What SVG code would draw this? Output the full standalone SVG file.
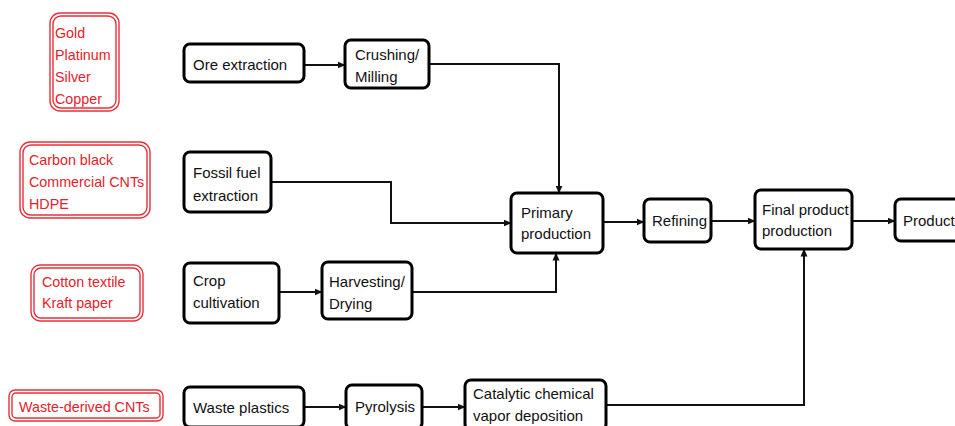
<svg xmlns="http://www.w3.org/2000/svg" width="955" height="426" viewBox="0 0 955 426">
<style>
.b{fill:#fff;stroke:#000;stroke-width:3}
.r{fill:#fff;stroke:#e8303a;stroke-width:1.4}
.ri{fill:none;stroke:#e8303a;stroke-width:1.4}
.t{font-family:"Liberation Sans",Arial,sans-serif;font-size:15px;fill:#111}
.rt{font-family:"Liberation Sans",Arial,sans-serif;font-size:14.3px;fill:#e8202a}
.c{fill:none;stroke:#111;stroke-width:2;marker-end:url(#a)}
</style>
<defs>
<marker id="a" viewBox="0 0 8 8" refX="7.5" refY="4" markerWidth="8" markerHeight="8" markerUnits="userSpaceOnUse" orient="auto">
<path d="M0,0.5 L8,4 L0,7.5 z" fill="#111"/>
</marker>
</defs>
<rect width="955" height="426" fill="#fff"/>
<g id="connectors">
<path class="c" d="M304,65 H345"/>
<path class="c" d="M429,64 H559 V193"/>
<path class="c" d="M271,182 H391 V223 H511"/>
<path class="c" d="M279,292 H322"/>
<path class="c" d="M412,292 H556 V253"/>
<path class="c" d="M603,222 H644"/>
<path class="c" d="M711,221 H755"/>
<path class="c" d="M852,221 H895"/>
<path class="c" d="M304,407 H346"/>
<path class="c" d="M422,407 H465"/>
<path class="c" d="M606,405 H804 V249"/>
</g>
<g id="red-metals">
<rect class="r" x="50" y="13" width="69" height="98" rx="10"/>
<rect class="ri" x="53" y="16" width="63" height="92" rx="8"/>
<text class="rt" x="55" y="38">Gold</text>
<text class="rt" x="55" y="60">Platinum</text>
<text class="rt" x="55" y="82">Silver</text>
<text class="rt" x="55" y="104">Copper</text>
</g>
<g id="red-carbon">
<rect class="r" x="20" y="142" width="130" height="76" rx="10"/>
<rect class="ri" x="23" y="145" width="124" height="70" rx="8"/>
<text class="rt" x="29" y="165">Carbon black</text>
<text class="rt" x="29" y="187">Commercial CNTs</text>
<text class="rt" x="29" y="209">HDPE</text>
</g>
<g id="red-cotton">
<rect class="r" x="31" y="265" width="112" height="56" rx="9"/>
<rect class="ri" x="34" y="268" width="106" height="50" rx="7"/>
<text class="rt" x="42" y="287">Cotton textile</text>
<text class="rt" x="42" y="308">Kraft paper</text>
</g>
<g id="red-waste">
<rect class="r" x="9" y="390" width="154" height="31" rx="6"/>
<rect class="ri" x="12" y="393" width="148" height="25" rx="4"/>
<text class="rt" x="19" y="412">Waste-derived CNTs</text>
</g>
<g id="ore">
<rect class="b" x="184" y="44" width="120" height="38" rx="6"/>
<text class="t" x="193" y="70">Ore extraction</text>
</g>
<g id="crushing">
<rect class="b" x="345" y="40" width="84" height="48" rx="6"/>
<text class="t" x="355" y="60">Crushing/</text>
<text class="t" x="355" y="82">Milling</text>
</g>
<g id="fossil">
<rect class="b" x="184" y="152" width="87" height="60" rx="6"/>
<text class="t" x="193" y="178">Fossil fuel</text>
<text class="t" x="193" y="201">extraction</text>
</g>
<g id="crop">
<rect class="b" x="184" y="263" width="95" height="60" rx="6"/>
<text class="t" x="193" y="286">Crop</text>
<text class="t" x="193" y="308">cultivation</text>
</g>
<g id="harvesting">
<rect class="b" x="322" y="262" width="90" height="57" rx="6"/>
<text class="t" x="329" y="287">Harvesting/</text>
<text class="t" x="329" y="309">Drying</text>
</g>
<g id="primary">
<rect class="b" x="511" y="193" width="92" height="60" rx="6"/>
<text class="t" x="521" y="218">Primary</text>
<text class="t" x="521" y="239">production</text>
</g>
<g id="refining">
<rect class="b" x="644" y="199" width="67" height="43" rx="6"/>
<text class="t" x="652" y="226">Refining</text>
</g>
<g id="final">
<rect class="b" x="755" y="190" width="97" height="59" rx="6"/>
<text class="t" x="762" y="215">Final product</text>
<text class="t" x="762" y="236">production</text>
</g>
<g id="product">
<rect class="b" x="895" y="199" width="70" height="42" rx="6"/>
<text class="t" x="903" y="226">Product</text>
</g>
<g id="waste-plastics">
<rect class="b" x="184" y="387" width="120" height="40" rx="6"/>
<text class="t" x="193" y="413">Waste plastics</text>
</g>
<g id="pyrolysis">
<rect class="b" x="346" y="385" width="76" height="44" rx="6"/>
<text class="t" x="355" y="412">Pyrolysis</text>
</g>
<g id="cvd">
<rect class="b" x="465" y="380" width="141" height="50" rx="6"/>
<text class="t" x="473" y="399">Catalytic chemical</text>
<text class="t" x="473" y="421">vapor deposition</text>
</g>
</svg>
